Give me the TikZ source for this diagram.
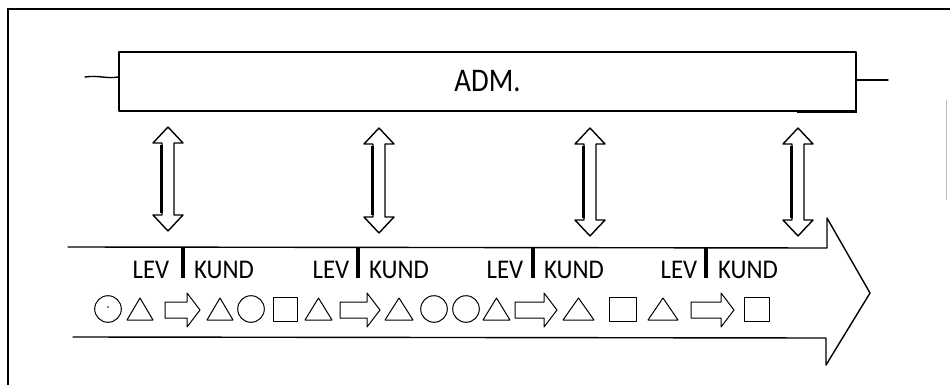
\documentclass[tikz,border=0pt]{standalone}
\usepackage{fontspec}
\setmainfont{Carlito}
\newfontfamily\labelfont[FakeStretch=0.92]{Carlito}
\newfontfamily\admfont[FakeStretch=0.87]{Carlito}
\begin{document}
\begin{tikzpicture}[x=1pt,y=-1pt,
  pen/.style={line width=1.4pt,line join=round,line cap=round},
  thinpen/.style={line width=1.0pt,line join=round,line cap=round},
  roletext/.style={font=\labelfont\fontsize{27}{27}\selectfont,anchor=base,inner sep=0pt},
  divider/.style={line width=3.4pt},
  admbox/.style={pen,draw,minimum width=737pt,minimum height=59pt,inner sep=0pt,
    font=\admfont\fontsize{33}{33}\selectfont}]
\useasboundingbox (0,0) rectangle (950,385);

% frame
\draw[line width=2pt] (8,385) -- (8,9) -- (950,9);
\draw[line width=0.8pt,black!25] (946,100) -- (946,200);

% administration bar with its side stubs
\node[admbox] (adm) at (487.5,81.5) {ADM.};
\coordinate (stubL) at (85,77);
\coordinate (stubR) at (888,80);
\draw[pen] (adm.west |- 0,77) .. controls (105,79) and (100,75) .. (stubL);
\draw[pen] (adm.east |- 0,80) -- (stubR);
\draw[line width=2.6pt] ([xshift=-60pt]adm.south east) -- (adm.south east);

% flow band: a wide open-ended arrow
\coordinate (bandTL) at (68,247);
\coordinate (bandBL) at (73,337);
\draw[pen] (bandTL) -- (827,248) -- (827,218) -- (870,293) -- (826,365) -- (826,338) -- (bandBL);

% double arrows between the bar and the band
\foreach \c/\t/\b in {168/127/231, 379/128/233, 590/128/236, 798/128/236}{
  \draw[pen,fill=white] (\c,\t) -- (\c+15,\t+16) -- (\c+6,\t+16) -- (\c+6,\b-16)
    -- (\c+15,\b-16) -- (\c,\b) -- (\c-15,\b-16) -- (\c-6,\b-16) -- (\c-6,\t+16)
    -- (\c-15,\t+16) -- cycle;
  \draw[line width=3pt] (\c-6.5,\t+18) -- (\c-6.5,\b-18);
}

% supplier / customer labels with dividers
\foreach \i/\d/\l/\k in {1/183/151/224, 2/358/331/399, 3/533/505/574, 4/706/679/748}{
  \draw[divider] (\d,248) -- (\d,278);
  \node[roletext] (lev\i) at (\l,278) {LEV};
  \node[roletext] (kund\i) at (\k,278) {KUND};
}

% row of symbols
\def\yc{310}
% circles
\foreach \x in {108,251,434,466}{
  \draw[thinpen] (\x,\yc-1) circle (13.3pt);
}
\fill (108,\yc-3) circle (0.8pt);
% triangles (left, right)
\foreach \a/\b in {127/153, 207/233, 305/332, 385/413, 483/510, 563/594, 648/678}{
  \draw[thinpen] (\a,320) -- (\b,320) -- ({(\a+\b)/2},298) -- cycle;
}
% squares
\foreach \a/\b in {273/297, 609/636, 744/769}{
  \draw[thinpen] (\a,297) rectangle (\b,321);
}
% block arrows
\foreach \a/\b in {165/200, 340/380, 515/557, 691/734}{
  \draw[thinpen] (\a,\yc-8) -- (\b-13,\yc-8) -- (\b-13,\yc-17) -- (\b,\yc)
    -- (\b-13,\yc+17) -- (\b-13,\yc+8) -- (\a,\yc+8) -- cycle;
}
\end{tikzpicture}
\end{document}
